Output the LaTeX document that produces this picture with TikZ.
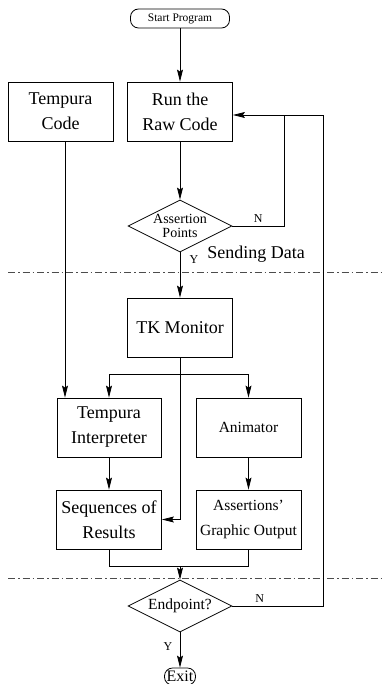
\documentclass[tikz,border=0pt]{standalone}
\usepackage{fontspec}
\setmainfont{Liberation Serif}
\usetikzlibrary{arrows.meta,shapes,positioning}
\tikzstyle{brick} = [rectangle, minimum width = 105pt, minimum height = 59pt, text centered, align = center, draw = black, font = \fontsize{18}{25}\selectfont]
\tikzstyle{smallbrick} = [brick, font = \fontsize{15.5}{25}\selectfont]
\tikzstyle{decision} = [diamond, aspect = 2, inner sep = 0pt, minimum width = 104pt, minimum height = 52pt, text centered, align = center, draw = black]
\tikzstyle{terminal} = [rectangle, rounded corners = 8pt, inner sep = 1pt, draw = black]
\tikzstyle{sep} = [black!70, line width = 0.6pt, dash pattern = on 7pt off 3pt on 1.5pt off 3pt]
\tikzstyle{yn} = [font = \fontsize{12}{12}\selectfont]

\begin{document}
\begin{tikzpicture}[x=1pt, y=-1pt, line width=0.8pt, >={Stealth[length=12pt,width=6pt,inset=2pt]}]
        \useasboundingbox (0,0) rectangle (385,684);
        \node (start) [terminal, minimum width=99pt, minimum height=19pt, font=\fontsize{11.5}{12}\selectfont] at (180,18.5) {Start Program};
        \node (run) [brick, below of=start, node distance=93pt] {Run the\\Raw Code};
        \node (tcode) [brick, left of=run, node distance=119.5pt] {Tempura\\Code};
        \node (assert) [decision, below of=run, node distance=114.5pt, font=\fontsize{14}{14}\selectfont] {Assertion\\Points};
        \node (tk) [brick, below of=assert, node distance=101.5pt] {TK Monitor};
        \node (interp) [brick, minimum width=104pt] at (109,427.5) {Tempura\\Interpreter};
        \node (anim) [smallbrick, right of=interp, node distance=139.5pt] {Animator};
        \node (seq) [brick, below of=interp, node distance=92pt] {Sequences of\\Results};
        \node (graph) [smallbrick, right of=seq, node distance=139.5pt] {Assertions'\\Graphic Output};
        \node (endp) [decision, below of=tk, node distance=278.5pt, font=\fontsize{15.5}{16}\selectfont] {Endpoint?};
        \node (exit) [terminal, below of=endp, node distance=70.5pt, minimum width=31pt, minimum height=17pt, font=\fontsize{16}{16}\selectfont] {Exit};
        \node (sending) [font=\fontsize{18}{18}\selectfont] at (256,254) {Sending Data};

        \coordinate (split) at (180,374);
        \coordinate (merge) at (180,566);
        \coordinate (back1) at (284,115);
        \coordinate (back2) at (323,115);
        \coordinate (tc) at ([xshift=4.5pt]tcode.south);

        % separators
        \draw [sep] (8,272) -- (385,272);
        \draw [sep] (8,578) -- (385,578);

        \draw [->] (start) -- (run);
        \draw [->] (run) -- (assert);
        \draw [->] (assert.east) -| node[yn,above,pos=.25]{N} (back1) -- ([yshift=-3.5pt]run.east);
        \draw [->] (assert) -- node[yn,right,pos=.15,xshift=6pt]{Y} (tk);
        \draw (tk) -- (split);
        \draw [->] (split) -| (interp);
        \draw [->] (split) -| (anim);
        \draw [->] (split) |- (seq);
        \draw [->] (tc) -- (tc |- interp.north);
        \draw [->] (interp) -- (seq);
        \draw [->] (anim) -- (graph);
        \draw (seq) |- (merge);
        \draw (graph) |- (merge);
        \draw [->] (merge) -- (endp);
        \draw (endp.east) -| node[yn,above,pos=.15]{N} (back2) -- (back1);
        \draw [->] (endp) -- node[yn,left,pos=.4,xshift=-4pt]{Y} (exit);
\end{tikzpicture}
\end{document}
